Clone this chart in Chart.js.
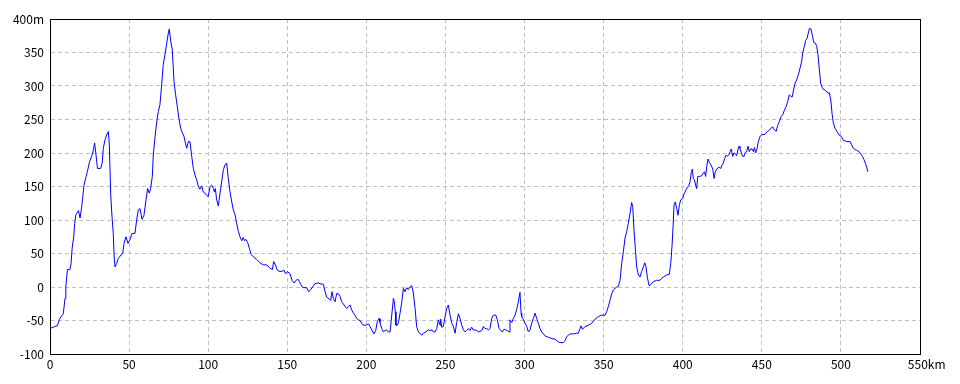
<!DOCTYPE html>
<html>
<head>
<meta charset="utf-8">
<script src="https://cdn.jsdelivr.net/npm/chart.js@4.4.1/dist/chart.umd.min.js"></script>
<style>
  html, body { margin: 0; padding: 0; background: #fff; }
  #wrap { width: 960px; height: 384px; }
</style>
</head>
<body>
<div id="wrap"><canvas id="profileChart" width="960" height="384"></canvas></div>
<script>
var distKm = [
  0, 3, 4.6, 6, 7.4, 8.4, 9.5, 10, 11, 12.6,
  13.3, 14, 15, 15.6, 16.4, 18, 19, 20, 20.6, 21.5,
  22.8, 23.6, 25, 26.3, 27.4, 28.2, 29, 30, 32, 33,
  33.7, 34.8, 35.8, 36.9, 37.5, 38.4, 39.2, 40, 40.5, 41.1,
  42.1, 43.2, 44.3, 46, 46.8, 48, 49.3, 50.6, 51.8, 53.7,
  54.8, 55.8, 56.9, 58.2, 59.4, 60.7, 61.7, 62.8, 63.6, 64.7,
  65.3, 66.4, 67.4, 68.5, 69.5, 70.6, 71.6, 72.7, 73.8, 74.8,
  75.4, 76.3, 77.3, 78.4, 79.4, 80.5, 81.6, 82.6, 83.7, 84.7,
  85.6, 86.4, 87.5, 88.5, 89.6, 90.6, 91.7, 92.7, 93.8, 94.8,
  95.9, 96.9, 98, 99, 100, 101.2, 102.2, 103.3, 103.9, 104.5,
  105.4, 106.4, 107.5, 108.5, 109.6, 110.6, 111.7, 112.7, 113.8, 114.9,
  115.9, 117, 118, 119.1, 120.1, 121.2, 122.2, 122.9, 123.9, 125,
  126, 127.1, 128.6, 130.7, 132.8, 134.9, 137, 139.1, 140.6, 141.4,
  142.5, 143.7, 145.4, 147.1, 148, 148.8, 150, 151.7, 153, 154.3,
  156, 157, 158.5, 159.8, 162.3, 163.5, 164.8, 166, 167.5, 169.6,
  170.7, 172.8, 173.9, 174.9, 176.6, 177.4, 178.3, 179.1, 180.2, 181.2,
  182.3, 183.3, 184.4, 185.4, 186.5, 187.6, 188.6, 189.7, 190.7, 191.8,
  192.8, 193.9, 194.9, 196, 197, 198.1, 199.8, 201.3, 202.3, 203.4,
  204.8, 205.9, 206.9, 208, 208.6, 209.7, 210.7, 211.8, 212.8, 213.9,
  215, 216, 217.1, 217.7, 218.3, 218.7, 219.6, 220.4, 221.3, 222.3,
  223.4, 224.4, 225.5, 226.5, 227.6, 228.7, 229.7, 230.8, 231.8, 232.9,
  233.9, 235, 236, 237.7, 239.2, 240.3, 241.5, 242.4, 243.4, 244.5,
  245.5, 246.6, 247, 247.6, 248.7, 249.7, 250.8, 251.8, 252.9, 254,
  255, 256.1, 257.1, 258.2, 259.2, 260.3, 261.3, 262.4, 263.4, 264.5,
  265.5, 266.6, 267.6, 268.7, 269.8, 270.8, 273, 274, 275, 276.1,
  277.1, 278.2, 279.2, 280.3, 281.8, 282.8, 283.9, 284.9, 286, 287,
  288.1, 289.1, 290.2, 290.8, 291.9, 292.9, 294, 295, 296.1, 297.1,
  297.8, 298.2, 299.3, 300.3, 301.4, 302.4, 303.5, 304.5, 305.6, 306.6,
  307.7, 308.7, 309.8, 310.8, 311.9, 313, 315.1, 317.2, 319.3, 321.4,
  322.4, 324.5, 325.6, 326.7, 327.7, 328.8, 330.9, 333, 334, 335.1,
  335.7, 336.6, 337.2, 338.2, 340.4, 342.5, 344.6, 346.7, 348.8, 350.9,
  351.9, 353, 354.1, 355.1, 356.2, 357.2, 358.3, 359.3, 360.4, 361.4,
  362.5, 363.5, 364.6, 365.6, 366.7, 367.7, 368.4, 369.2, 370.1, 370.9,
  372, 373, 374, 375.1, 376, 376.8, 377.6, 378.7, 379.7, 381.4,
  383.5, 385.6, 386.7, 387.8, 389.9, 391.5, 392.4, 393.2, 393.9, 394.5,
  395.3, 396.2, 397, 397.9, 398.7, 400, 401, 402.1, 402.9, 403.8,
  404.6, 405.5, 406.1, 406.7, 407.4, 408.2, 408.8, 409.5, 410.5, 412,
  413, 413.7, 414.5, 415.2, 416, 416.8, 417.9, 419, 419.8, 420.6,
  421.5, 422.7, 424, 424.8, 425.7, 426.5, 427.4, 428.2, 429.1, 429.9,
  430.7, 431.6, 432.4, 433.3, 434.1, 435, 435.6, 436.2, 437.1, 437.9,
  438.8, 439.6, 440.4, 441.3, 442.1, 443, 443.8, 444.7, 445.3, 446.1,
  447, 447.8, 448.9, 449.9, 452, 453.5, 454.8, 455.8, 456.9, 457.9,
  459, 460, 461.1, 462.1, 463.2, 464.3, 465.3, 466.4, 467.4, 468.5,
  469.3, 470, 471, 472, 473.1, 474.2, 475.2, 475.8, 476.9, 477.7,
  478.6, 479.4, 480.1, 481.1, 481.9, 482.8, 483.9, 484.7, 485.5, 486.4,
  487.2, 488.1, 488.9, 490.4, 491.9, 492.7, 493.6, 494.4, 495.2, 496.3,
  497.8, 498.8, 500.1, 501.6, 503.7, 505.8, 506.8, 507.9, 509, 510,
  511.5, 512.5, 513.6, 514.6, 515.7, 516.3, 517
];

var elevM = [
  -62, -59, -58, -48, -43, -40, -17, 0, 26, 26,
  35, 58, 75, 95, 108, 114, 103, 119, 132, 152,
  165, 172, 187, 195, 204, 215, 199, 177, 177, 185,
  207, 220, 227, 232, 212, 137, 105, 80, 48, 30,
  35, 43, 46, 51, 65, 75, 65, 71, 80, 80,
  100, 115, 117, 101, 107, 130, 147, 140, 147, 165,
  197, 224, 245, 262, 272, 302, 332, 347, 364, 379,
  385, 367, 354, 307, 287, 269, 250, 237, 230, 225,
  215, 207, 217, 217, 195, 177, 167, 160, 150, 146,
  151, 142, 140, 137, 135, 150, 152, 147, 142, 147,
  130, 121, 140, 157, 175, 182, 185, 162, 142, 127,
  115, 108, 95, 83, 75, 69, 74, 69, 71, 66,
  58, 49, 45, 41, 36, 33, 33, 28, 26, 38,
  33, 25, 23, 24, 25, 20, 23, 20, 10, 6,
  11, 11, 4, -1, -1, -7, -4, 0, 5, 6,
  5, 4, -7, -15, -18, -20, -7, -17, -22, -10,
  -10, -14, -22, -25, -29, -32, -29, -27, -34, -39,
  -42, -47, -49, -50, -54, -57, -57, -55, -59, -64,
  -70, -65, -52, -47, -53, -62, -67, -65, -64, -67,
  -67, -43, -17, -22, -37, -57, -57, -52, -39, -24,
  -2, -7, -1, -4, 0, 2, -9, -32, -59, -67,
  -69, -72, -69, -67, -64, -65, -64, -67, -67, -62,
  -49, -57, -48, -60, -59, -45, -32, -27, -42, -54,
  -59, -69, -53, -40, -47, -57, -64, -67, -65, -62,
  -65, -60, -64, -64, -65, -67, -65, -59, -62, -62,
  -64, -62, -47, -42, -42, -49, -62, -65, -67, -63,
  -64, -65, -67, -49, -53, -47, -42, -34, -22, -8,
  -39, -44, -49, -54, -59, -67, -64, -54, -47, -39,
  -47, -54, -62, -67, -70, -73, -75, -77, -78, -82,
  -83, -83, -80, -74, -72, -70, -70, -69, -69, -62,
  -58, -63, -62, -59, -57, -54, -48, -44, -42, -42,
  -37, -29, -19, -10, -4, -2, 0, 1, 10, 35,
  53, 73, 83, 95, 110, 126, 120, 85, 55, 30,
  18, 15, 23, 30, 36, 30, 15, 2, 3, 8,
  10, 10, 13, 15, 18, 19, 35, 60, 90, 122,
  127, 117, 107, 122, 130, 132, 140, 145, 149, 151,
  157, 172, 176, 162, 160, 152, 147, 165, 165, 166,
  170, 172, 165, 180, 191, 186, 182, 176, 162, 172,
  176, 179, 177, 182, 185, 192, 197, 195, 197, 202,
  206, 195, 200, 199, 196, 206, 210, 207, 200, 195,
  195, 201, 202, 210, 202, 206, 206, 202, 208, 200,
  207, 217, 225, 227, 228, 232, 234, 237, 239, 235,
  232, 241, 247, 254, 257, 264, 269, 277, 287, 284,
  284, 294, 304, 309, 317, 327, 337, 349, 359, 368,
  371, 379, 386, 385, 376, 365, 364, 359, 347, 324,
  304, 298, 295, 293, 289, 290, 279, 259, 245, 237,
  231, 227, 225, 219, 217, 217, 212, 207, 205, 204,
  202, 199, 195, 190, 183, 179, 172
];

// ejes
var xTicks = [0, 50, 100, 150, 200, 250, 300, 350, 400, 450, 500, 550];
var yTicks = [-100, -50, 0, 50, 100, 150, 200, 250, 300, 350, 400];
var xUnit = 'km';
var yUnit = 'm';

var fuente = { family: '"Noto Sans CJK JP", "DejaVu Sans", sans-serif', size: 12 };

//marco negro alrededor del area de la grafica
var marco =
{
  id: 'marco',
  afterDraw: function( chart )
  {
    var a = chart.chartArea;
    var ctx = chart.ctx;
    ctx.save( );
    ctx.strokeStyle = '#000';
    ctx.lineWidth = 1;
    ctx.strokeRect( Math.round( a.left ) + 0.5, Math.round( a.top ) + 0.5,
                    Math.round( a.right - a.left ), Math.round( a.bottom - a.top ) );
    ctx.restore( );
  }
};

var fondo =
{
  id: 'fondo',
  beforeDraw: function( chart )
  {
    var ctx = chart.ctx;
    ctx.save( );
    ctx.fillStyle = '#fff';
    ctx.fillRect( 0, 0, chart.width, chart.height );
    ctx.restore( );
  }
};

var puntos = distKm.map( function( d, i ) { return { x: d, y: elevM[ i ] }; } );

var profileChart = new Chart( document.getElementById( 'profileChart' ).getContext( '2d' ),
{
  type: 'line',
  data:
  {
    datasets:
    [
      {
        data: puntos,
        borderColor: '#0000ff',
        borderWidth: 1,
        pointRadius: 0,
        tension: 0,
        fill: false
      }
    ]
  },
  options:
  {
    responsive: false,
    animation: false,
    layout: { padding: { top: 19, right: 40, bottom: 0, left: 0 } },
    plugins: { legend: { display: false }, tooltip: { enabled: false } },
    scales:
    {
      x:
      {
        type: 'linear',
        min: 0,
        max: 550,
        afterBuildTicks: function( scale ) { scale.ticks = xTicks.map( function( v ) { return { value: v }; } ); },
        afterFit: function( scale ) { scale.height = 30; },
        ticks:
        {
          color: '#000',
          font: fuente,
          padding: 3,
          maxRotation: 0,
          callback: function( v ) { return v == 550 ? '     ' + v + xUnit : '' + v; }
        },
        grid: { color: '#c0c0c0', drawTicks: false, lineWidth: 1 },
        border: { display: true, color: '#000', width: 1, dash: [ 4, 3 ] }
      },
      y:
      {
        type: 'linear',
        min: -100,
        max: 400,
        afterBuildTicks: function( scale ) { scale.ticks = yTicks.map( function( v ) { return { value: v }; } ); },
        afterFit: function( scale ) { scale.width = 50; },
        ticks:
        {
          color: '#000',
          font: fuente,
          padding: 6,
          callback: function( v ) { return v == 400 ? v + yUnit : '' + v; }
        },
        grid: { color: '#c0c0c0', drawTicks: false, lineWidth: 1 },
        border: { display: true, color: '#000', width: 1, dash: [ 4, 3 ] }
      }
    }
  },
  plugins: [ fondo, marco ]
});
</script>
</body>
</html>
